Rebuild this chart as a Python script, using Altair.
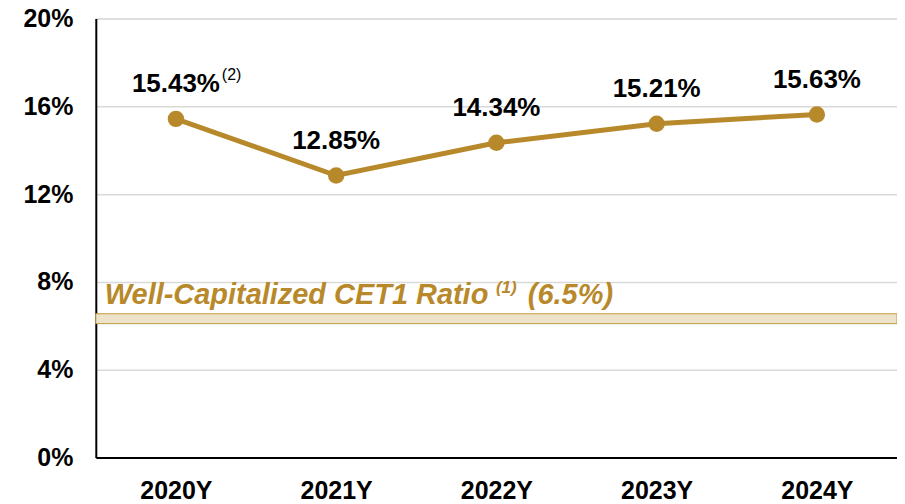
import altair as alt
import pandas as pd

years = ["2020Y", "2021Y", "2022Y", "2023Y", "2024Y"]
cet1 = [15.43, 12.85, 14.34, 15.21, 15.63]
labels = ["15.43%", "12.85%", "14.34%", "15.21%", "15.63%"]
band_low = [6.1]
band_high = [6.55]
y_ticks = [0, 4, 8, 12, 16, 20]

GOLD = "#B8892B"
FONT = "Liberation Sans"

df = pd.DataFrame({"year": years, "v": cet1, "label": labels})
band = pd.DataFrame({"lo": band_low, "hi": band_high})

xenc = alt.X("year:N", sort=years, scale=alt.Scale(paddingInner=0, paddingOuter=0),
             axis=alt.Axis(title=None, labelAngle=0, labelFont=FONT, labelFontSize=25,
                           labelFontWeight="bold", labelColor="#000", ticks=False,
                           domainColor="#000", domainWidth=2, labelPadding=21, grid=False))
yscale = alt.Scale(domain=[0, 20], nice=False)
yenc = alt.Y("v:Q", scale=yscale,
             axis=alt.Axis(title=None, values=y_ticks, labelExpr="datum.value + '%'",
                           labelFont=FONT, labelFontSize=25, labelFontWeight="bold",
                           labelColor="#000", ticks=False, domainColor="#000", domainWidth=2,
                           labelPadding=23, gridColor="#D9D9D9", gridWidth=1.5))

band_rect = alt.Chart(band).mark_rect(fill="#EDE3CB", stroke="#C39A3C", strokeWidth=1).encode(
    x=alt.value(0), x2=alt.value(803),
    y=alt.Y("lo:Q", scale=yscale), y2="hi:Q")

band_text = alt.Chart(band).mark_text(
    text="Well-Capitalized CET1 Ratio", font=FONT, fontSize=29, fontWeight="bold",
    fontStyle="italic", color=GOLD, align="left", baseline="alphabetic", dy=-10
).encode(x=alt.value(9), y=alt.Y("hi:Q", scale=yscale))
band_sup = alt.Chart(band).mark_text(
    text="(1)", font=FONT, fontSize=17, fontWeight="bold",
    fontStyle="italic", color=GOLD, align="left", baseline="alphabetic", dy=-21
).encode(x=alt.value(401), y=alt.Y("hi:Q", scale=yscale))
band_pct = alt.Chart(band).mark_text(
    text="(6.5%)", font=FONT, fontSize=29, fontWeight="bold",
    fontStyle="italic", color=GOLD, align="left", baseline="alphabetic", dy=-10
).encode(x=alt.value(433), y=alt.Y("hi:Q", scale=yscale))

base = alt.Chart(df).encode(x=xenc, y=yenc)
line = base.mark_line(color=GOLD, strokeWidth=5)
pts = base.mark_circle(color=GOLD, opacity=1, size=270)
txt = base.mark_text(font=FONT, fontSize=26, fontWeight="bold", color="#000",
                     baseline="alphabetic", dy=-27).encode(text="label:N")
sup = alt.Chart(df.iloc[[0]]).mark_text(
    text="(2)", font=FONT, fontSize=16, color="#000", align="left",
    baseline="alphabetic", dx=46, dy=-39
).encode(x=xenc, y=yenc)

chart = alt.layer(band_rect, band_text, band_sup, band_pct, line, pts, txt, sup).properties(
    width=803, height=440,
    autosize=alt.AutoSizeParams(type="none"),
    padding={"left": 88, "top": 10, "right": 0, "bottom": 46},
).configure_view(stroke=None).configure(background="white")

chart.save("out.html", embed_options={"renderer": "svg", "actions": False})
